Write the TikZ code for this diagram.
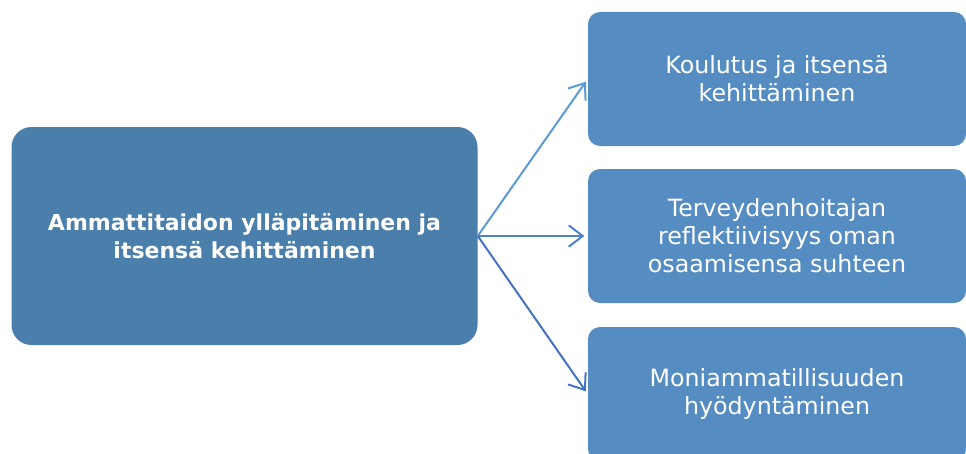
\documentclass[tikz,border=0pt]{standalone}
\usepackage{fontspec}
\setmainfont{DejaVu Sans}
\usetikzlibrary{arrows.meta}
\definecolor{mainblue}{HTML}{4A7EAB}
\definecolor{subblue}{HTML}{558DC3}
\definecolor{arrowlight}{HTML}{5B9BD5}
\definecolor{arrowmid}{HTML}{4F80CC}
\definecolor{arrowdark}{HTML}{4472C4}

\begin{document}
\begin{tikzpicture}[x=0.75pt,y=0.75pt,yscale=-1,xscale=1,
  mainbox/.style={rounded corners=15pt, fill=mainblue, text=white, inner sep=0pt,
    minimum width=349.5pt, minimum height=163.5pt, align=center,
    font=\bfseries\fontsize{16.5}{21}\selectfont},
  subbox/.style={rounded corners=9pt, fill=subblue, text=white, inner sep=0pt,
    minimum width=283.5pt, minimum height=100.5pt, align=center,
    font=\fontsize{17.8}{21}\selectfont},
  link/.style={line width=1.5pt, -{Straight Barb[length=10.5pt,width=16pt]}, shorten >=2.5pt}]
%set diagram to 966 x 453
\useasboundingbox (0,0) rectangle (966,453);
\clip (0,0) rectangle (966,453);
% Main box
\node [mainbox] (upkeep) at (244.5,236) {Ammattitaidon ylläpitäminen ja\\itsensä kehittäminen};
% Right boxes
\node [subbox] (training) at (777,79) {Koulutus ja itsensä\\kehittäminen};
\node [subbox] (reflect) at (777,236) {Terveydenhoitajan\\reflektiivisyys oman\\osaamisensa suhteen};
\node [subbox] (multi) at (777,394) {Moniammatillisuuden\\hyödyntäminen};
% Arrows
\draw [link, arrowlight] (upkeep.east) -- (training.west);
\draw [link, arrowmid] (upkeep.east) -- (reflect.west);
\draw [link, arrowdark] (upkeep.east) -- (multi.west);
\end{tikzpicture}
\end{document}
